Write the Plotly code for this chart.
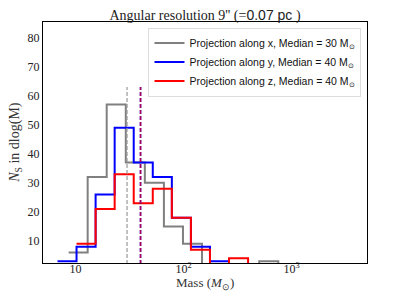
import plotly.graph_objects as go
import math

# ---------------- data ----------------
# logarithmic mass bins (solar masses) and counts per bin
edges_x = [8.63, 12.96, 19.45, 29.21, 43.85, 65.84, 98.86, 148.4, 222.8, 334.6, 502.3, 754.3]
counts_x = [6, 32, 57, 37, 30, 15, 9, 0, 0, 0, 3]

edges_y = [6.81, 10.22, 15.35, 23.04, 34.59, 51.93, 77.98, 117.1, 175.8, 263.9]
counts_y = [3, 8, 26, 49, 37, 32, 18, 8, 3]

edges_z = [10.22, 15.35, 23.04, 34.59, 51.93, 77.98, 117.1, 175.8, 263.9, 396.3]
counts_z = [9, 21, 33, 23, 28, 18, 7, 0, 4]

medians = [30, 40, 40]
median_top = 63
names = [
    "Projection along x, Median = 30 M<sub>⊙</sub>",
    "Projection along y, Median = 40 M<sub>⊙</sub>",
    "Projection along z, Median = 40 M<sub>⊙</sub>",
]
colors = ["#808080", "#0000ff", "#ff0000"]
x_ticks = [10, 100, 1000]
x_ticktext = ["10", "10<sup>2</sup>", "10<sup>3</sup>"]
y_ticks = [10, 20, 30, 40, 50, 60, 70, 80]

SERIF = "Liberation Serif"
SANS = "Liberation Sans"

# page body has an 8px margin: figure is sized/placed to compensate
W, H = 391, 290
L, R, T, B = 34.7, 31.7, 13.7, 35.3
PW, PH = W - L - R, H - T - B

fig = go.Figure()

series = [(edges_x, counts_x), (edges_y, counts_y), (edges_z, counts_z)]
for (edges, counts), name, col in zip(series, names, colors):
    fig.add_trace(go.Scatter(
        x=edges, y=list(counts) + [0],
        mode="lines", line=dict(color=col, width=2, shape="hv"),
        name=name, showlegend=True, hoverinfo="skip",
    ))

# median lines
fig.add_trace(go.Scatter(x=[medians[0]] * 2, y=[0, median_top], mode="lines",
                         line=dict(color="#999999", width=1.2, dash="4px,2px"),
                         showlegend=False, hoverinfo="skip"))
fig.add_trace(go.Scatter(x=[medians[1]] * 2, y=[0, median_top], mode="lines",
                         line=dict(color="#0000ff", width=1.6, dash="4px,2px"),
                         showlegend=False, hoverinfo="skip"))
fig.add_trace(go.Scatter(x=[medians[2]] * 2, y=[0, median_top], mode="lines",
                         line=dict(color="#ff0000", width=1.6, dash="4px,2px"),
                         opacity=0.65, showlegend=False, hoverinfo="skip"))

fig.update_layout(
    width=W, height=H,
    margin=dict(l=L, r=R, t=T, b=B, autoexpand=False),
    plot_bgcolor="white", paper_bgcolor="white",
    title=dict(
        text="Angular resolution 9'' (=<span style='font-family:Liberation Sans'>0.07 pc</span> )",
        xref="paper", x=0.5, xanchor="center",
        yref="container", y=1 - 7.5 / H, yanchor="middle",
        font=dict(family=SERIF, size=14, color="#222"),
    ),
    xaxis=dict(
        type="log", range=[math.log10(5), math.log10(5000)],
        tickvals=x_ticks, ticktext=x_ticktext, ticks="",
        ticklabelstandoff=-6,
        showline=True, mirror=True, linecolor="black", linewidth=1.3,
        showgrid=False, zeroline=False,
        tickfont=dict(family=SERIF, size=12, color="#222"),
    ),
    yaxis=dict(
        range=[2.4, 85.4], tickvals=y_ticks, ticks="",
        showline=True, mirror=True, linecolor="black", linewidth=1.3,
        showgrid=False, zeroline=False,
        tickfont=dict(family=SERIF, size=12, color="#222"),
    ),
    legend=dict(
        x=0.983, xanchor="right", y=0.977, yanchor="top",
        bgcolor="white", bordercolor="#dddddd", borderwidth=1,
        font=dict(family=SANS, size=10.5, color="#111"),
        tracegroupgap=0, itemwidth=30,
    ),
    annotations=[
        dict(text="<i>N</i><sub>S</sub> in dlog(M)", xref="paper", yref="paper",
             x=(7 - L) / PW, y=0.5, xanchor="center", yanchor="middle",
             textangle=-90, showarrow=False,
             font=dict(family=SERIF, size=14, color="#333")),
        dict(text="Mass (<i>M</i><sub>⊙</sub>)", xref="paper", yref="paper",
             x=0.5, y=(H - B - 275) / PH,
             xanchor="center", yanchor="middle",
             showarrow=False, font=dict(family=SERIF, size=13, color="#333")),
    ],
)

fig.write_html("out.html")
